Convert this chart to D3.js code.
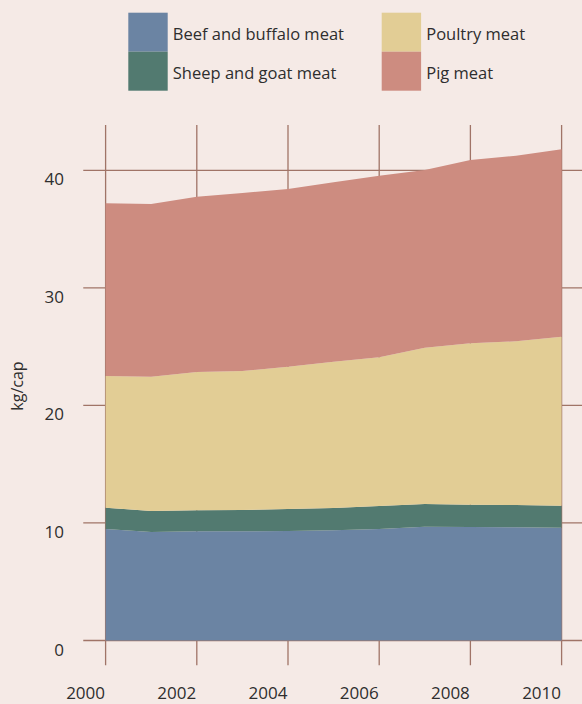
<!DOCTYPE html>
<html>
<head>
<meta charset="utf-8">
<script src="https://cdn.jsdelivr.net/npm/d3@7"></script>
<style>
  html, body { margin: 0; padding: 0; background: #f5eae6; }
  svg { display: block; }
  text { font-family: "Open Sans", "Noto Sans", sans-serif; fill: #2e2e2e; }
</style>
</head>
<body>
<svg id="chart" width="582" height="704"></svg>
<script>
// Meat consumption per capita (kg/cap), 2000–2010
const years = [2000, 2001, 2002, 2003, 2004, 2005, 2006, 2007, 2008, 2009, 2010];
const beef    = [9.49, 9.23, 9.29, 9.29, 9.32, 9.37, 9.49, 9.68, 9.66, 9.63, 9.60];
const sheep   = [1.81, 1.79, 1.79, 1.81, 1.87, 1.90, 1.95, 1.93, 1.89, 1.90, 1.87];
const poultry = [11.20, 11.42, 11.76, 11.83, 12.10, 12.45, 12.65, 13.30, 13.73, 13.92, 14.37];
const pig     = [14.69, 14.69, 14.91, 15.14, 15.12, 15.26, 15.45, 15.12, 15.60, 15.79, 15.95];

const seriesNames = ["Beef and buffalo meat", "Sheep and goat meat", "Poultry meat", "Pig meat"];
const seriesKeys = ["beef", "sheep", "poultry", "pig"];
const seriesColors = ["#6b84a3", "#527a70", "#e2cd95", "#cd8c80"];
const xTicks = [2000, 2002, 2004, 2006, 2008, 2010];
const yTicks = [0, 10, 20, 30, 40];

const table = years.map((y, i) => ({
  year: y, beef: beef[i], sheep: sheep[i], poultry: poultry[i], pig: pig[i]
}));

const svg = d3.select("#chart");
const gridColor = "#a07467";

const x = d3.scaleLinear().domain([2000, 2010]).range([105.6, 561.6]);
const y = d3.scaleLinear().domain([0, 40]).range([640.5, 170.3]);

// grid: vertical lines at year ticks, horizontal lines at value ticks
const grid = svg.append("g");
grid.selectAll("line.v").data(xTicks).join("line")
  .attr("x1", d => x(d)).attr("x2", d => x(d))
  .attr("y1", y(43.85)).attr("y2", y(-2.1))
  .attr("stroke", gridColor).attr("stroke-width", 1.3);
grid.selectAll("line.h").data(yTicks).join("line")
  .attr("x1", x(1999.51)).attr("x2", 582)
  .attr("y1", d => y(d)).attr("y2", d => y(d))
  .attr("stroke", gridColor).attr("stroke-width", 1.3);

// stacked areas
const stack = d3.stack().keys(seriesKeys);
const layers = stack(table);
const area = d3.area()
  .x(d => x(d.data.year))
  .y0(d => y(d[0]))
  .y1(d => y(d[1]));
svg.append("g").selectAll("path").data(layers).join("path")
  .attr("d", area)
  .attr("fill", (d, i) => seriesColors[i]);

// tick labels
svg.append("g").selectAll("text").data(xTicks).join("text")
  .attr("x", d => x(d) - 20).attr("y", 699)
  .attr("text-anchor", "middle")
  .attr("font-size", 17)
  .text(d => d);
svg.append("g").selectAll("text").data(yTicks).join("text")
  .attr("x", 64).attr("y", d => y(d) + 15)
  .attr("text-anchor", "end")
  .attr("font-size", 17)
  .text(d => d);

// axis title
svg.append("text")
  .attr("transform", "translate(23,386) rotate(-90)")
  .attr("text-anchor", "middle")
  .attr("font-size", 16)
  .text("kg/cap");

// legend: two columns, two rows
const legendPos = [[128.3, 12.7], [128.3, 51.7], [381.7, 12.7], [381.7, 51.7]];
const lg = svg.append("g").selectAll("g").data(seriesNames).join("g")
  .attr("transform", (d, i) => `translate(${legendPos[i][0]},${legendPos[i][1]})`);
lg.append("rect")
  .attr("width", 39.4).attr("height", 39)
  .attr("fill", (d, i) => seriesColors[i]);
lg.append("text")
  .attr("x", 44.5).attr("y", 27)
  .attr("font-size", 16.5)
  .text(d => d);
</script>
</body>
</html>
